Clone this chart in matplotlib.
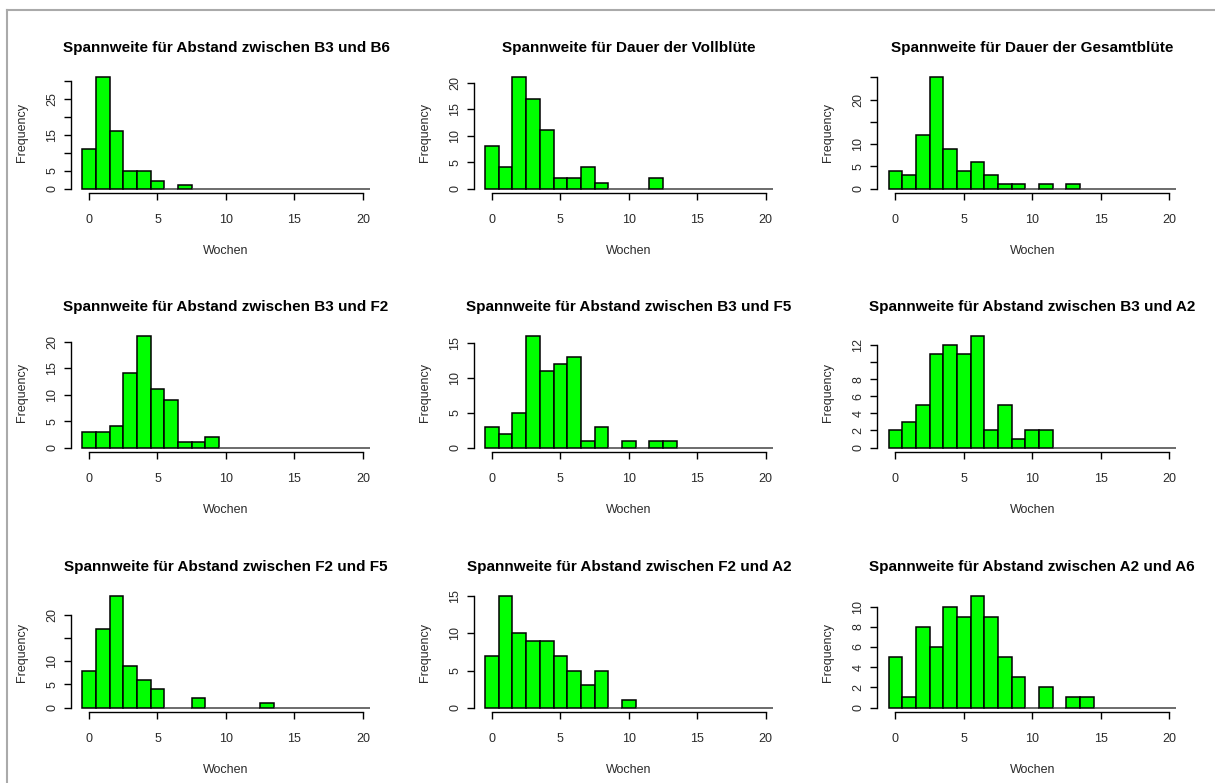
import matplotlib
matplotlib.use("Agg")
import matplotlib.pyplot as plt
from matplotlib.lines import Line2D

plt.rcParams['font.family'] = ['Liberation Sans', 'DejaVu Sans']

titles = [
    "Spannweite für Abstand zwischen B3 und B6",
    "Spannweite für Dauer der Vollblüte",
    "Spannweite für Dauer der Gesamtblüte",
    "Spannweite für Abstand zwischen B3 und F2",
    "Spannweite für Abstand zwischen B3 und F5",
    "Spannweite für Abstand zwischen B3 und A2",
    "Spannweite für Abstand zwischen F2 und F5",
    "Spannweite für Abstand zwischen F2 und A2",
    "Spannweite für Abstand zwischen A2 und A6",
]

# counts per week (bins centred on 0, 1, 2, ...)
b3_b6 = [11, 31, 16, 5, 5, 2, 0, 1]
vollbluete = [8, 4, 21, 17, 11, 2, 2, 4, 1, 0, 0, 0, 2]
gesamtbluete = [4, 3, 12, 25, 9, 4, 6, 3, 1, 1, 0, 1, 0, 1]
b3_f2 = [3, 3, 4, 14, 21, 11, 9, 1, 1, 2]
b3_f5 = [3, 2, 5, 16, 11, 12, 13, 1, 3, 0, 1, 0, 1, 1]
b3_a2 = [2, 3, 5, 11, 12, 11, 13, 2, 5, 1, 2, 2]
f2_f5 = [8, 17, 24, 9, 6, 4, 0, 0, 2, 0, 0, 0, 0, 1]
f2_a2 = [7, 15, 10, 9, 9, 7, 5, 3, 5, 0, 1]
a2_a6 = [5, 1, 8, 6, 10, 9, 11, 9, 5, 3, 0, 2, 0, 1, 1]

counts = [b3_b6, vollbluete, gesamtbluete, b3_f2, b3_f5, b3_a2, f2_f5, f2_a2, a2_a6]

# y ticks and which of them carry a label (R drops overlapping ones)
yticks = [
    [0, 5, 10, 15, 20, 25, 30],
    [0, 5, 10, 15, 20],
    [0, 5, 10, 15, 20, 25],
    [0, 5, 10, 15, 20],
    [0, 5, 10, 15],
    [0, 2, 4, 6, 8, 10, 12],
    [0, 5, 10, 15, 20],
    [0, 5, 10, 15],
    [0, 2, 4, 6, 8, 10],
]
ylabels_shown = [
    [0, 5, 15, 25],
    [0, 5, 10, 15, 20],
    [0, 5, 10, 20],
    [0, 5, 10, 15, 20],
    [0, 5, 10, 15],
    [0, 2, 4, 6, 8, 12],
    [0, 5, 10, 20],
    [0, 5, 10, 15],
    [0, 2, 4, 6, 8, 10],
]
xticks = [0, 5, 10, 15, 20]
weeks = list(range(21))

W, H = 1215, 783
fig = plt.figure(figsize=(W / 100, H / 100), dpi=100)

col_left = [70.7, 473.6, 877.0]
row_bottom = [193, 452, 712]
pw, ph = 310.5, 120.0

txt = '#2a2a2a'

for i in range(9):
    r, c = divmod(i, 3)
    ax = fig.add_axes([col_left[c] / W, 1 - row_bottom[r] / H, pw / W, ph / H])
    vals = counts[i] + [0] * (len(weeks) - len(counts[i]))
    edge = ['black' if v > 0 else '#444444' for v in vals]
    ax.bar(weeks, vals, width=1.0, color='#00ff00', edgecolor=edge, linewidth=1.1)
    top = max(counts[i])
    ax.set_xlim(-1.34, 21.34)
    ax.set_ylim(-0.04 * top, 1.04 * top)
    for s in ['top', 'right']:
        ax.spines[s].set_visible(False)
    ax.spines['bottom'].set_bounds(0, 20)
    ax.spines['left'].set_bounds(0, yticks[i][-1])
    ax.spines['bottom'].set_linewidth(1.0)
    ax.spines['left'].set_linewidth(1.0)
    ax.set_xticks(xticks)
    ax.set_xticklabels([str(t) for t in xticks])
    ax.set_yticks(yticks[i])
    ax.set_yticklabels([str(t) if t in ylabels_shown[i] else '' for t in yticks[i]],
                       rotation=90, va='center')
    ax.tick_params(axis='both', direction='out', length=5, width=1.0,
                   labelsize=9, colors='black', labelcolor=txt)
    ax.tick_params(axis='x', pad=10)
    ax.tick_params(axis='y', pad=4)
    ax.set_xlabel("Wochen", fontsize=9, color=txt, labelpad=14)
    ax.set_ylabel("Frequency", fontsize=9, color=txt, labelpad=13)
    ax.set_title(titles[i], fontsize=11, fontweight='bold', color='black', pad=15)

# grey frame at top and left
fig.add_artist(Line2D([7.3 / W, 7.3 / W], [0, 1 - 9.7 / H], color='#aaaaaa', lw=1.5))
fig.add_artist(Line2D([7.3 / W, 1], [1 - 9.7 / H, 1 - 9.7 / H], color='#aaaaaa', lw=1.5))

fig.savefig("out.png", dpi=100)
